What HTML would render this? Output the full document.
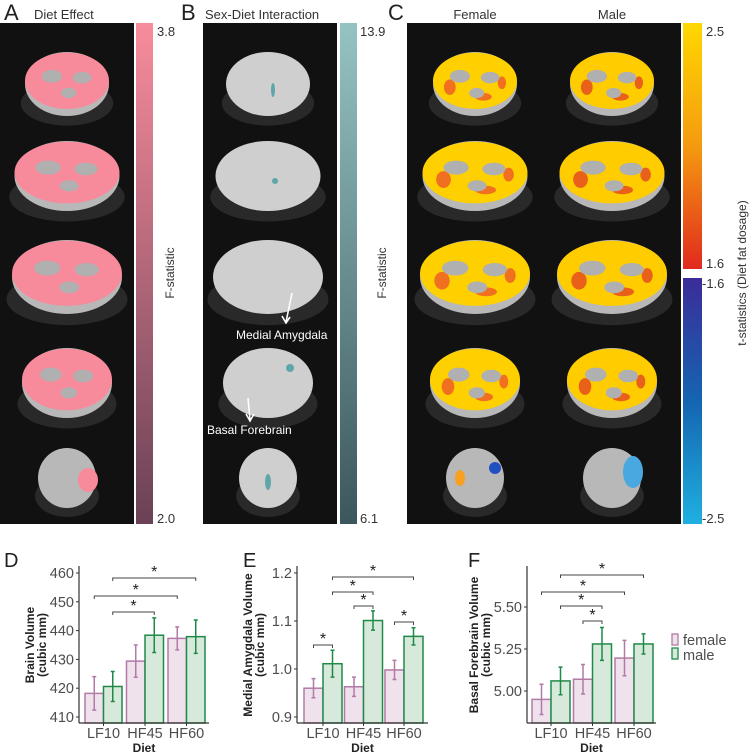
<!DOCTYPE html>
<html><head><meta charset="utf-8"><style>
body{margin:0;background:#fff;}
svg{display:block;font-family:"Liberation Sans",sans-serif;}
</style></head><body>
<svg id="fig" width="749" height="756" viewBox="0 0 749 756">
<defs>
<linearGradient id="gA" x1="0" y1="0" x2="0" y2="1"><stop offset="0" stop-color="#f88c9c"/><stop offset="1" stop-color="#6a4156"/></linearGradient>
<linearGradient id="gB" x1="0" y1="0" x2="0" y2="1"><stop offset="0" stop-color="#95c3c3"/><stop offset="1" stop-color="#3b575d"/></linearGradient>
<linearGradient id="gCp" x1="0" y1="0" x2="0" y2="1"><stop offset="0" stop-color="#ffd800"/><stop offset="0.5" stop-color="#f59a10"/><stop offset="1" stop-color="#e02a1e"/></linearGradient>
<linearGradient id="gCn" x1="0" y1="0" x2="0" y2="1"><stop offset="0" stop-color="#3b2c98"/><stop offset="0.5" stop-color="#1565b0"/><stop offset="1" stop-color="#1fb0e0"/></linearGradient>
</defs>
<g id="topgroup"></g>
<g id="charts"></g>
</svg>
<script>
// ---------- chart data ----------
const categories = ["LF10","HF45","HF60"];
const brainFemale = [418.2, 429.4, 437.3];
const brainMale = [420.6, 438.4, 437.9];
const brainFemaleErr = [5.8, 5.6, 4.0];
const brainMaleErr = [5.2, 6.0, 5.8];
const brainTicks = [410, 420, 430, 440, 450, 460];
const amygFemale = [0.960, 0.963, 0.998];
const amygMale = [1.011, 1.101, 1.068];
const amygFemaleErr = [0.020, 0.020, 0.020];
const amygMaleErr = [0.028, 0.020, 0.018];
const amygTicks = [0.9, 1.0, 1.1, 1.2];
const bfFemale = [4.95, 5.07, 5.196];
const bfMale = [5.06, 5.28, 5.28];
const bfFemaleErr = [0.09, 0.088, 0.105];
const bfMaleErr = [0.082, 0.098, 0.06];
const bfTicks = [5.00, 5.25, 5.50];
const brainSig = [["m0","m2"],["f0","f2"],["m0","m1"]];
const amygSig = [["m0","m2"],["m0","m1"],["f1","m1"],["f2","m2"],["f0","m0"]];
const bfSig = [["m0","m2"],["f0","f2"],["m0","m1"],["f1","m1"]];

const NS="http://www.w3.org/2000/svg";
function mk(parent,tag,attrs,name,inter){const e=document.createElementNS(NS,tag);for(const k in attrs)e.setAttribute(k,attrs[k]);


parent.appendChild(e);return e;}
function txt(parent,x,y,s,attrs,name){const t=mk(parent,'text',Object.assign({x:x,y:y},attrs),name,false);t.textContent=s;return t;}

const topG=document.getElementById('topgroup');
mk(topG,'rect',{x:0,y:23,width:134,height:501,fill:'#111'},'panel-a-background');
mk(topG,'rect',{x:136,y:23,width:17,height:501,fill:'url(#gA)'},'panel-a-colorbar');
mk(topG,'rect',{x:203,y:23,width:134,height:501,fill:'#111'},'panel-b-background');
mk(topG,'rect',{x:340,y:23,width:17,height:501,fill:'url(#gB)'},'panel-b-colorbar');
mk(topG,'rect',{x:407,y:23,width:274,height:501,fill:'#111'},'panel-c-background');
mk(topG,'rect',{x:683,y:23,width:19,height:246,fill:'url(#gCp)'},'panel-c-colorbar-positive');
mk(topG,'rect',{x:683,y:278,width:19,height:246,fill:'url(#gCn)'},'panel-c-colorbar-negative');
const tl={fill:'#222','font-size':22};
txt(topG,4,20,'A',tl,'panel-a-letter');txt(topG,181,20,'B',tl,'panel-b-letter');txt(topG,388,20,'C',tl,'panel-c-letter');
const tt={fill:'#333','font-size':13};
txt(topG,34,19,'Diet Effect',tt,'panel-a-title');
txt(topG,205,19,'Sex-Diet Interaction',tt,'panel-b-title');
txt(topG,475,19,'Female',Object.assign({'text-anchor':'middle'},tt),'female-title');
txt(topG,612,19,'Male',Object.assign({'text-anchor':'middle'},tt),'male-title');
const cl={fill:'#333','font-size':13};
txt(topG,157,36,'3.8',cl,'colorbar-a-max');txt(topG,157,523,'2.0',cl,'colorbar-a-min');
txt(topG,360,36,'13.9',cl,'colorbar-b-max');txt(topG,360,523,'6.1',cl,'colorbar-b-min');
txt(topG,706,36,'2.5',cl,'colorbar-c-max');txt(topG,706,268,'1.6',cl,'colorbar-c-pos-min');
txt(topG,702,288,'-1.6',cl,'colorbar-c-neg-min');txt(topG,702,523,'-2.5',cl,'colorbar-c-neg-max');
const rl={fill:'#333','font-size':12,'text-anchor':'middle'};
txt(topG,0,0,'F-statistic',Object.assign({transform:'translate(174,273) rotate(-90)'},rl),'colorbar-a-title');
txt(topG,0,0,'F-statistic',Object.assign({transform:'translate(386,273) rotate(-90)'},rl),'colorbar-b-title');
txt(topG,0,0,'t-statistics (Diet fat dosage)',Object.assign({transform:'translate(746,273) rotate(-90)','font-size':13},rl),'colorbar-c-title');

const rowsY=[84,176,277,383,478], rowsW=[84,105,110,90,58], rowsH=[64,70,74,70,60];
function brain(cx,r,overlay,spot,name,base){
  const g=mk(topG,'g',{},name,false);
  const w=rowsW[r],h=rowsH[r],cy=rowsY[r];
  mk(g,'ellipse',{cx:cx,cy:cy+h*0.3,rx:w*0.55,ry:h*0.35,fill:'#555',opacity:0.35},'brain-skull');
  mk(g,'ellipse',{cx:cx,cy:cy,rx:w/2,ry:h/2,fill:base||'#b8b8b8'},'brain-slice');
  if(overlay){
    mk(g,'ellipse',{cx:cx,cy:cy-h*0.05,rx:w/2,ry:h*0.44,fill:overlay},'brain-overlay');
    if(spot){
      mk(g,'ellipse',{cx:cx-w*0.3,cy:cy+h*0.05,rx:w*0.07,ry:h*0.12,fill:spot},'brain-orange-patch');
      mk(g,'ellipse',{cx:cx+w*0.1,cy:cy+h*0.2,rx:w*0.1,ry:h*0.06,fill:spot},'brain-orange-patch');
      mk(g,'ellipse',{cx:cx+w*0.32,cy:cy-h*0.02,rx:w*0.05,ry:h*0.1,fill:spot},'brain-orange-patch');
    }
    mk(g,'ellipse',{cx:cx-w*0.18,cy:cy-h*0.12,rx:w*0.12,ry:h*0.1,fill:'#b0b0b0'},'brain-gray-patch');
    mk(g,'ellipse',{cx:cx+w*0.18,cy:cy-h*0.1,rx:w*0.11,ry:h*0.09,fill:'#b0b0b0'},'brain-gray-patch');
    mk(g,'ellipse',{cx:cx+w*0.02,cy:cy+h*0.14,rx:w*0.09,ry:h*0.08,fill:'#b0b0b0'},'brain-gray-patch');
  }
}
for(let r=0;r<5;r++){
  brain(67,r,r==4?null:'#f78b9b',null,'panel-a-brain-'+(r+1));
  brain(268,r,null,null,'panel-b-brain-'+(r+1),'#cfcfcf');
  brain(475,r,r==4?null:'#ffd000',r==4?null:'#f07020','female-brain-'+(r+1));
  brain(612,r,r==4?null:'#ffcc00',r==4?null:'#e8601a','male-brain-'+(r+1));
}
mk(topG,'ellipse',{cx:88,cy:480,rx:10,ry:12,fill:'#f78b9b'},'panel-a-slice5-overlay');
mk(topG,'ellipse',{cx:633,cy:472,rx:10,ry:16,fill:'#4aa8e0'},'male-slice5-blue');
mk(topG,'ellipse',{cx:495,cy:468,rx:6,ry:6,fill:'#2050c0'},'female-slice5-blue');
mk(topG,'ellipse',{cx:460,cy:478,rx:5,ry:8,fill:'#f8a020'},'female-slice5-orange');
mk(topG,'ellipse',{cx:273,cy:90,rx:2,ry:7,fill:'#5fa6a8'},'b-cluster');
mk(topG,'circle',{cx:275,cy:181,r:3,fill:'#5fa6a8'},'b-cluster');
mk(topG,'circle',{cx:290,cy:368,r:4,fill:'#5fa6a8'},'b-cluster');
mk(topG,'ellipse',{cx:268,cy:482,rx:3,ry:8,fill:'#5fa6a8'},'b-cluster');
mk(topG,'path',{d:'M292 293 L286 322 M282 316 L286 323 L290 317',stroke:'#fff','stroke-width':1.6,fill:'none'},'medial-amygdala-arrow');
mk(topG,'path',{d:'M248 398 L250 420 M246 414 L250 421 L254 414',stroke:'#fff','stroke-width':1.6,fill:'none'},'basal-forebrain-arrow');
txt(topG,236,339,'Medial Amygdala',{fill:'#fff','font-size':12},'medial-amygdala-label');
txt(topG,207,434,'Basal Forebrain',{fill:'#fff','font-size':12},'basal-forebrain-label');

const ch=document.getElementById('charts');
function chart(o){
  const g=mk(ch,'g',{},o.name,false);
  const y=v=>o.yPx1+(v-o.v1)*(o.yPx2-o.yPx1)/(o.v2-o.v1);
  const base=723;
  const x0=o.axisX;
  const groupX=i=>o.firstX+i*o.step;
  const bw=o.bw;
  const center=k=>{const s=k[0],i=+k[1];return groupX(i)+(s==='f'?bw/2:bw*1.5);};
  categories.forEach((c,i)=>{
    [['f',o.f,o.fe,'#efe2ec','#b27aa6'],['m',o.m,o.me,'#d7e9da','#1f8a48']].forEach(([s,vals,errs,fill,st])=>{
      const bx=groupX(i)+(s==='f'?0:bw);const v=vals[i];
      mk(g,'rect',{x:bx,y:y(v),width:bw,height:base-y(v),fill:fill,stroke:st,'stroke-width':1.5},'bar-'+(s==='f'?'female':'male')+'-'+c.toLowerCase());
      const cx=bx+bw/2;
      mk(g,'path',{d:`M${cx} ${y(v+errs[i])}V${y(v-errs[i])}M${cx-2} ${y(v+errs[i])}H${cx+2}M${cx-2} ${y(v-errs[i])}H${cx+2}`,stroke:st,'stroke-width':1.5,fill:'none'},'error-bar');
    });
    txt(g,groupX(i)+bw,738,c,{'text-anchor':'middle','font-size':14.5,fill:'#4d4d4d'},'x-tick-label');
    mk(g,'line',{x1:groupX(i)+bw,x2:groupX(i)+bw,y1:base,y2:base+3,stroke:'#333'},'x-tick');
  });
  mk(g,'line',{x1:x0,x2:x0,y1:566,y2:base,stroke:'#333','stroke-width':1.2},'y-axis-line');
  mk(g,'line',{x1:x0,x2:o.axisEnd,y1:base,y2:base,stroke:'#333','stroke-width':1.2},'x-axis-line');
  o.ticks.forEach(t=>{
    mk(g,'line',{x1:x0-3,x2:x0,y1:y(t),y2:y(t),stroke:'#333'},'y-tick');
    txt(g,x0-5,y(t)+5,o.fmt(t),{'text-anchor':'end','font-size':14.5,fill:'#4d4d4d'},'y-tick-label');
  });
  o.sig.forEach((p,k)=>{
    const yy=o.sigY[k];const a=center(p[0]),b=center(p[1]);
    mk(g,'path',{d:`M${a} ${yy+3}V${yy}H${b}V${yy+3}`,stroke:'#444','stroke-width':1,fill:'none'},'significance-bracket');
    txt(g,(a+b)/2,yy-1,'*',{'text-anchor':'middle','font-size':16,fill:'#222'},'significance-star');
  });
  txt(g,(x0+o.axisEnd)/2,752,'Diet',{'text-anchor':'middle','font-size':12,'font-weight':'bold',fill:'#222'},'x-axis-title');
  const tg=mk(g,'text',{transform:`translate(${o.titleX},645) rotate(-90)`,'text-anchor':'middle','font-size':12,'font-weight':'bold',fill:'#222'},'y-axis-title',false);
  o.title.forEach((s,k)=>{const ts=mk(tg,'tspan',{x:0,dy:k?12:0},'y-axis-title-line',false);ts.textContent=s;});
  txt(g,o.letterX,567,o.letter,{'font-size':20,fill:'#222'},'panel-letter');
}
chart({name:'chart-d',letter:'D',letterX:4,f:brainFemale,m:brainMale,fe:brainFemaleErr,me:brainMaleErr,ticks:brainTicks,v1:410,v2:460,yPx1:717,yPx2:573,axisX:79,axisEnd:209,firstX:85,step:41.5,bw:18.5,sig:brainSig,sigY:[578,596,612],fmt:t=>String(t),title:['Brain Volume','(cubic mm)'],titleX:34});
chart({name:'chart-e',letter:'E',letterX:243,f:amygFemale,m:amygMale,fe:amygFemaleErr,me:amygMaleErr,ticks:amygTicks,v1:0.9,v2:1.2,yPx1:717,yPx2:573,axisX:297,axisEnd:428,firstX:304,step:40.5,bw:19,sig:amygSig,sigY:[577,592,606,622,645],fmt:t=>t.toFixed(1),title:['Medial Amygdala Volume','(cubic mm)'],titleX:252});
chart({name:'chart-f',letter:'F',letterX:468,f:bfFemale,m:bfMale,fe:bfFemaleErr,me:bfMaleErr,ticks:bfTicks,v1:5.0,v2:5.5,yPx1:691,yPx2:607,axisX:527,axisEnd:656,firstX:532,step:41.5,bw:19,sig:bfSig,sigY:[575,592,606,621],fmt:t=>t.toFixed(2),title:['Basal Forebrain Volume','(cubic mm)'],titleX:478});
mk(ch,'rect',{x:672,y:634,width:6,height:11,fill:'#efe2ec',stroke:'#b27aa6','stroke-width':1.3},'legend-female-key');
mk(ch,'rect',{x:672,y:648,width:6,height:11,fill:'#d7e9da',stroke:'#1f8a48','stroke-width':1.3},'legend-male-key');
txt(ch,683,645,'female',{'font-size':14.5,fill:'#4d4d4d'},'legend-female-label');
txt(ch,683,660,'male',{'font-size':14.5,fill:'#4d4d4d'},'legend-male-label');
</script>
</body></html>
